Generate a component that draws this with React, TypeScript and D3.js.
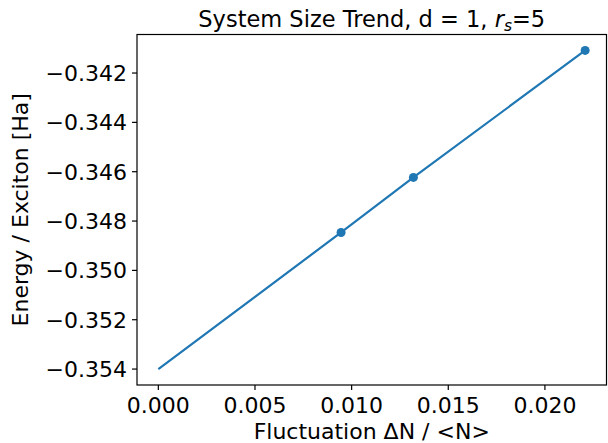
import React from "react";
import * as d3 from "d3";

const xValues = [0.009454, 0.013196, 0.022082];
const yValues = [-0.348462, -0.346232, -0.341084];
const extrapX = 0.0;
const extrapY = -0.354;
const xTicks = [0.0, 0.005, 0.01, 0.015, 0.02];
const yTicks = [-0.354, -0.352, -0.35, -0.348, -0.346, -0.344, -0.342];

const W = 608;
const H = 443;
const left = 137;
const right = 606.5;
const top = 34.5;
const bottom = 385;
const color = "#1f77b4";
const font = "DejaVu Sans, sans-serif";

export default function App() {
  const allX = [extrapX, ...xValues];
  const allY = [extrapY, ...yValues];
  const [x0, x1] = d3.extent(allX) as [number, number];
  const [y0, y1] = d3.extent(allY) as [number, number];
  const px = (x1 - x0) * 0.05;
  const py = (y1 - y0) * 0.05;
  const x = d3.scaleLinear().domain([x0 - px, x1 + px]).range([left, right]);
  const y = d3.scaleLinear().domain([y0 - py, y1 + py]).range([bottom, top]);
  const line = d3
    .line<[number, number]>()
    .x((d) => x(d[0]))
    .y((d) => y(d[1]));
  const pts: [number, number][] = allX.map((v, i) => [v, allY[i]]);
  const fmt = d3.format(".3f");
  const minus = (v: number) => fmt(v).replace("-", "\u2212");

  return (
    <svg
      width={W}
      height={H}
      style={{ position: "absolute", left: 0, top: 0 }}
      fontFamily={font}
    >
      <rect x={0} y={0} width={W} height={H} fill="white" />
      <path d={line(pts) || ""} fill="none" stroke={color} strokeWidth={2.2} />
      {xValues.map((v, i) => (
        <circle key={i} cx={x(v)} cy={y(yValues[i])} r={4.5} fill={color} />
      ))}
      <rect
        x={left}
        y={top}
        width={right - left}
        height={bottom - top}
        fill="none"
        stroke="black"
        strokeWidth={1.2}
      />
      {xTicks.map((t) => (
        <g key={t}>
          <line x1={x(t)} x2={x(t)} y1={bottom} y2={bottom + 5} stroke="black" strokeWidth={1.2} />
          <text x={x(t)} y={413} fontSize={22} textAnchor="middle" fill="black">
            {fmt(t)}
          </text>
        </g>
      ))}
      {yTicks.map((t) => (
        <g key={t}>
          <line x1={left - 5} x2={left} y1={y(t)} y2={y(t)} stroke="black" strokeWidth={1.2} />
          <text x={127} y={y(t)} dy="0.36em" fontSize={22} textAnchor="end" fill="black">
            {minus(t)}
          </text>
        </g>
      ))}
      <text x={(left + right) / 2} y={439} fontSize={22} textAnchor="middle" fill="black">
        Fluctuation ΔN / &lt;N&gt;
      </text>
      <text
        transform={`translate(27.5,${(top + bottom) / 2}) rotate(-90)`}
        fontSize={22}
        textAnchor="middle"
        fill="black"
      >
        Energy / Exciton [Ha]
      </text>
      <text x={(left + right) / 2} y={27} fontSize={22.5} textAnchor="middle" fill="black">
        System Size Trend, d = 1,{" "}
        <tspan fontStyle="italic">r</tspan>
        <tspan fontSize={15.5} dy={4} fontStyle="italic">s</tspan>
        <tspan dy={-4}>=5</tspan>
      </text>
    </svg>
  );
}
